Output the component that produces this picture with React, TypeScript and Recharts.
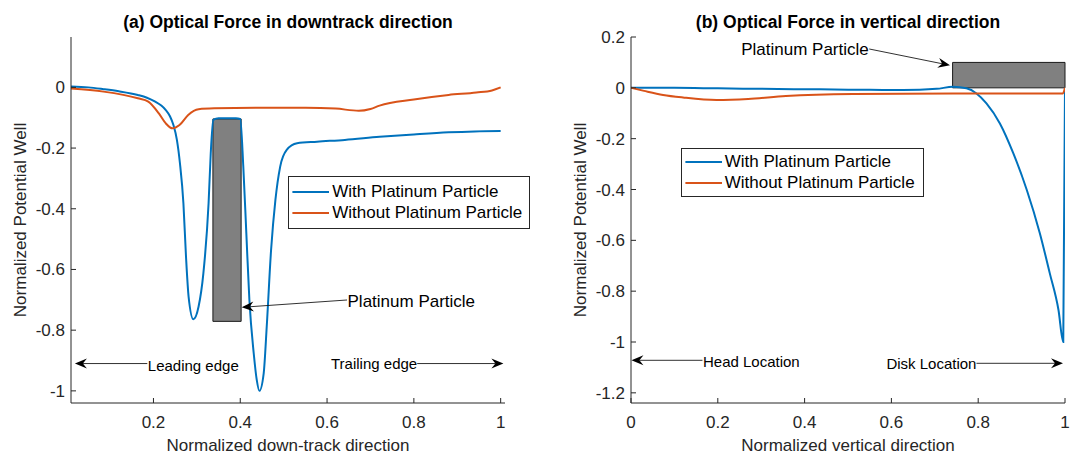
import React from 'react';
import { LineChart, Line, XAxis, YAxis, ReferenceArea, ReferenceLine, Legend } from 'recharts';

const FONT = '"Liberation Sans", Arial, Helvetica, sans-serif';
const INK = '#262626';

const SERIES_NAMES = ['With Platinum Particle', 'Without Platinum Particle'];
const SERIES_COLORS = ['#0072BD', '#D95319'];

// ---------- Panel (a): downtrack direction ----------
const downX_with = [0.01, 0.05, 0.085, 0.12, 0.164, 0.185, 0.204, 0.218, 0.228, 0.238, 0.246, 0.254, 0.261, 0.269, 0.275, 0.281, 0.292, 0.304, 0.315, 0.327, 0.332, 0.338, 0.35, 0.37, 0.39, 0.4, 0.407, 0.414, 0.421, 0.431, 0.438, 0.444, 0.454, 0.461, 0.471, 0.481, 0.492, 0.507, 0.531, 0.577, 0.641, 0.721, 0.8, 0.88, 0.94, 1.0];
const downY_with = [0.003, 0.0, -0.006, -0.013, -0.025, -0.034, -0.047, -0.06, -0.074, -0.095, -0.124, -0.173, -0.25, -0.382, -0.558, -0.69, -0.764, -0.722, -0.613, -0.382, -0.217, -0.107, -0.102, -0.102, -0.102, -0.104, -0.261, -0.481, -0.7, -0.876, -0.964, -1.0, -0.942, -0.788, -0.536, -0.371, -0.261, -0.206, -0.184, -0.179, -0.173, -0.163, -0.155, -0.148, -0.145, -0.144];
const downX_without = [0.01, 0.085, 0.164, 0.188, 0.212, 0.228, 0.244, 0.26, 0.28, 0.304, 0.34, 0.45, 0.55, 0.62, 0.673, 0.7, 0.721, 0.8, 0.88, 0.944, 0.98, 1.0];
const downY_without = [-0.004, -0.014, -0.036, -0.047, -0.085, -0.118, -0.135, -0.124, -0.091, -0.072, -0.069, -0.067, -0.067, -0.07, -0.077, -0.071, -0.06, -0.04, -0.025, -0.017, -0.01, 0.0];
const downXTicks = [0.2, 0.4, 0.6, 0.8, 1];
const downYTicks = [-1, -0.8, -0.6, -0.4, -0.2, 0];
const downXDomain = [0.01, 1.01];
const downYDomain = [-1.04, 0.166];
const downParticle = { x1: 0.337, x2: 0.402, y1: -0.771, y2: -0.104 };
const downNotes = [
  { text: 'Leading edge', from: { x: 0.1858, y: -0.91 }, to: { x: 0.019, y: -0.91 }, anchor: 'start', dx: 0.5, dy: 7, size: 15 },
  { text: 'Trailing edge', from: { x: 0.8077, y: -0.91 }, to: { x: 1.0063, y: -0.91 }, anchor: 'end', dx: 0, dy: 5.5, size: 15 },
  { text: 'Platinum Particle', from: { x: 0.646, y: -0.7006 }, to: { x: 0.4033, y: -0.7247 }, anchor: 'start', dx: 0.5, dy: 7, size: 17 },
];

// ---------- Panel (b): vertical direction ----------
const vertX_with = [0, 0.1, 0.2, 0.3, 0.435, 0.55, 0.627, 0.704, 0.742, 0.773, 0.796, 0.819, 0.85, 0.881, 0.912, 0.942, 0.965, 0.985, 0.996, 1.0];
const vertY_with = [0, 0, -0.002, -0.004, -0.006, -0.008, -0.009, -0.004, 0.004, -0.002, -0.022, -0.061, -0.14, -0.258, -0.402, -0.572, -0.73, -0.874, -1.0, 0];
const vertX_without = [0, 0.03, 0.074, 0.12, 0.197, 0.27, 0.357, 0.512, 0.742, 0.995, 1.0];
const vertY_without = [0, -0.012, -0.028, -0.038, -0.048, -0.044, -0.032, -0.024, -0.022, -0.022, 0];
const vertXTicks = [0, 0.2, 0.4, 0.6, 0.8, 1];
const vertYTicks = [-1.2, -1, -0.8, -0.6, -0.4, -0.2, 0, 0.2];
const vertXDomain = [0, 1];
const vertYDomain = [-1.24, 0.2];
const vertParticle = { x1: 0.741, x2: 1.0, y1: 0, y2: 0.1 };
const vertNotes = [
  { text: 'Platinum Particle', from: { x: 0.549, y: 0.1528 }, to: { x: 0.735, y: 0.0886 }, anchor: 'end', dx: -0.5, dy: 6, size: 17 },
  { text: 'Head Location', from: { x: 0.1647, y: -1.072 }, to: { x: 0.001, y: -1.072 }, anchor: 'start', dx: 0.5, dy: 6.7, size: 15 },
  { text: 'Disk Location', from: { x: 0.796, y: -1.0838 }, to: { x: 0.9954, y: -1.0838 }, anchor: 'end', dx: 0, dy: 5.8, size: 15 },
];

const zip = (xs: number[], ys: number[]) => xs.map((x, i) => ({ x, y: ys[i] }));
const fmt = (v: number) => String(Number(v.toFixed(2)));

const XTick = (props: any) => {
  const { x, y, payload } = props;
  return (
    <g>
      <line x1={x} y1={y} x2={x} y2={y - 5} stroke={INK} strokeWidth={1} />
      <text x={x} y={y + 25} textAnchor="middle" fontSize={17} fontFamily={FONT} fill={INK}>
        {fmt(payload.value)}
      </text>
    </g>
  );
};

const YTick = (props: any) => {
  const { x, y, payload } = props;
  return (
    <g>
      <line x1={x} y1={y} x2={x + 5} y2={y} stroke={INK} strokeWidth={1} />
      <text x={x - 6} y={y + 6} textAnchor="end" fontSize={17} fontFamily={FONT} fill={INK}>
        {fmt(payload.value)}
      </text>
    </g>
  );
};

const arrowShape = (note: any) => (p: any) => {
  const { x1, y1, x2, y2 } = p;
  const ang = Math.atan2(y2 - y1, x2 - x1);
  const ux = Math.cos(ang);
  const uy = Math.sin(ang);
  const nx = -uy;
  const ny = ux;
  const L = 12;
  const W = 10;
  const N = 8;
  const bx = x2 - L * ux;
  const by = y2 - L * uy;
  const pts = [
    [x2, y2],
    [bx + (W / 2) * nx, by + (W / 2) * ny],
    [x2 - N * ux, y2 - N * uy],
    [bx - (W / 2) * nx, by - (W / 2) * ny],
  ]
    .map((q) => q.join(','))
    .join(' ');
  return (
    <g>
      <line x1={x1} y1={y1} x2={x2 - N * ux} y2={y2 - N * uy} stroke="#1a1a1a" strokeWidth={0.9} />
      <polygon points={pts} fill="#000" />
      <text x={x1 + note.dx} y={y1 + note.dy} textAnchor={note.anchor} fontSize={note.size} fontFamily={FONT} fill="#000">
        {note.text}
      </text>
    </g>
  );
};

const makeLegend = (box: any) => () => (
  <div
    style={{
      position: 'relative',
      width: box.w,
      height: box.h,
      border: `1px solid ${INK}`,
      background: '#fff',
      boxSizing: 'border-box',
      fontFamily: FONT,
      fontSize: 17,
    }}
  >
    {SERIES_NAMES.map((n, i) => (
      <div
        key={n}
        style={{
          position: 'absolute',
          left: -1,
          top: box.rows[i] - 11,
          height: 20,
          display: 'flex',
          alignItems: 'center',
          whiteSpace: 'nowrap',
        }}
      >
        <svg width={44} height={20} style={{ display: 'block' }}>
          <line x1={4.4} x2={41} y1={10} y2={10} stroke={SERIES_COLORS[i]} strokeWidth={2} />
        </svg>
        <span style={{ color: '#000', lineHeight: '20px' }}>{n}</span>
      </div>
    ))}
  </div>
);

type PanelProps = {
  left: number;
  width: number;
  marginRight: number;
  title: string;
  xLabel: string;
  withData: { x: number; y: number }[];
  withoutData: { x: number; y: number }[];
  xTicks: number[];
  yTicks: number[];
  xDomain: number[];
  yDomain: number[];
  particle: { x1: number; x2: number; y1: number; y2: number };
  notes: any[];
  legendBox: any;
};

const H = 453;
const TOP = 37;
const YAXIS_W = 71;
const XAXIS_H = 50;

const Panel = (p: PanelProps) => {
  const plotCenter = YAXIS_W + (p.width - YAXIS_W - p.marginRight) / 2;
  return (
    <div style={{ position: 'absolute', left: p.left, top: 0, width: p.width, height: H }}>
      <LineChart width={p.width} height={H} margin={{ top: TOP, right: p.marginRight, bottom: 0, left: 0 }}>
        <XAxis
          type="number"
          dataKey="x"
          domain={p.xDomain}
          ticks={p.xTicks}
          interval={0}
          allowDataOverflow
          height={XAXIS_H}
          tickSize={0}
          tickMargin={0}
          tick={<XTick />}
          axisLine={{ stroke: INK, strokeWidth: 1 }}
          label={{
            value: p.xLabel,
            position: 'insideBottom',
            offset: 2.5,
            fontSize: 17,
            fontFamily: FONT,
            fill: INK,
          }}
        />
        <YAxis
          type="number"
          dataKey="y"
          domain={p.yDomain}
          ticks={p.yTicks}
          interval={0}
          allowDataOverflow
          width={YAXIS_W}
          tickSize={0}
          tickMargin={0}
          tick={<YTick />}
          axisLine={{ stroke: INK, strokeWidth: 1 }}
          label={{
            value: 'Normalized Potential Well',
            angle: -90,
            position: 'insideLeft',
            offset: 20,
            fontSize: 17,
            fontFamily: FONT,
            fill: INK,
            style: { textAnchor: 'middle' },
          }}
        />
        <Line
          data={p.withData}
          dataKey="y"
          name={SERIES_NAMES[0]}
          type="monotone"
          stroke={SERIES_COLORS[0]}
          strokeWidth={2}
          dot={false}
          activeDot={false}
          isAnimationActive={false}
        />
        <Line
          data={p.withoutData}
          dataKey="y"
          name={SERIES_NAMES[1]}
          type="monotone"
          stroke={SERIES_COLORS[1]}
          strokeWidth={2}
          dot={false}
          activeDot={false}
          isAnimationActive={false}
        />
        <ReferenceArea
          x1={p.particle.x1}
          x2={p.particle.x2}
          y1={p.particle.y1}
          y2={p.particle.y2}
          fill="#808080"
          fillOpacity={1}
          stroke="#1a1a1a"
          strokeWidth={1}
          ifOverflow="visible"
        />
        {p.notes.map((n) => (
          <ReferenceLine
            key={n.text}
            segment={[n.from, n.to]}
            ifOverflow="visible"
            stroke="#000"
            shape={arrowShape(n)}
          />
        ))}
        <Legend
          layout="horizontal"
          verticalAlign="middle"
          align="center"
          wrapperStyle={{ left: p.legendBox.x, top: p.legendBox.y, width: p.legendBox.w, height: p.legendBox.h }}
          content={makeLegend(p.legendBox)}
        />
      </LineChart>
      <div
        style={{
          position: 'absolute',
          left: plotCenter - 250,
          width: 500,
          top: 14.2,
          textAlign: 'center',
          fontFamily: FONT,
          fontWeight: 'bold',
          fontSize: 17.5,
          lineHeight: 1,
          color: '#000',
          whiteSpace: 'nowrap',
          pointerEvents: 'none',
        }}
      >
        {p.title}
      </div>
    </div>
  );
};

export default function App() {
  return (
    <div style={{ position: 'absolute', left: 0, top: 0, width: 1070, height: H, background: '#fff', overflow: 'hidden' }}>
      <Panel
        left={0}
        width={540}
        marginRight={35}
        title="(a) Optical Force in downtrack direction"
        xLabel="Normalized down-track direction"
        withData={zip(downX_with, downY_with)}
        withoutData={zip(downX_without, downY_without)}
        xTicks={downXTicks}
        yTicks={downYTicks}
        xDomain={downXDomain}
        yDomain={downYDomain}
        particle={downParticle}
        notes={downNotes}
        legendBox={{ x: 288.3, y: 176, w: 241.7, h: 53.3, rows: [15.7, 37.3] }}
      />
      <Panel
        left={560}
        width={510}
        marginRight={5}
        title="(b) Optical Force in vertical direction"
        xLabel="Normalized vertical direction"
        withData={zip(vertX_with, vertY_with)}
        withoutData={zip(vertX_without, vertY_without)}
        xTicks={vertXTicks}
        yTicks={vertYTicks}
        xDomain={vertXDomain}
        yDomain={vertYDomain}
        particle={vertParticle}
        notes={vertNotes}
        legendBox={{ x: 120.7, y: 148.3, w: 243.3, h: 49, rows: [13.4, 35] }}
      />
    </div>
  );
}
